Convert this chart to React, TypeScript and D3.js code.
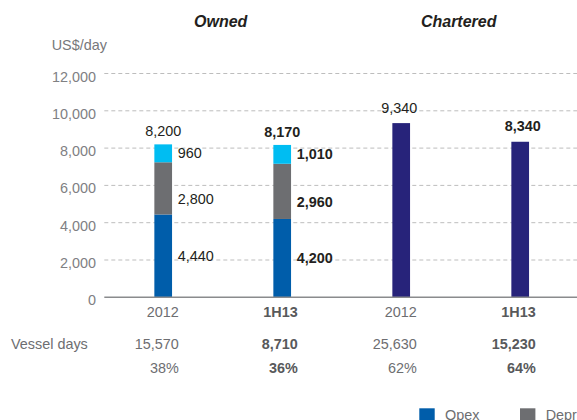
import React from "react";
import * as d3 from "d3";

// ---- data ----
const categories = ["2012", "1H13", "2012", "1H13"];
const groups = ["Owned", "Chartered"];
const groupOf = [0, 0, 1, 1];
const opex = [4440, 4200, 0, 0];
const depreciation = [2800, 2960, 0, 0];
const others = [960, 1010, 0, 0];
const charterCost = [0, 0, 9340, 8340];
const vesselDays = ["15,570", "8,710", "25,630", "15,230"];
const shares = ["38%", "36%", "62%", "64%"];
const boldCol = [false, true, false, true];
const yTicks = [0, 2000, 4000, 6000, 8000, 10000, 12000];
const legendNames = ["Opex", "Depreciation", "Others", "Charter cost"];

const W = 577;
const H = 420;
const FONT = "Liberation Sans, Arial, Helvetica, sans-serif";
const FS = 14.4;

const colors = {
  opex: "#005DAA",
  dep: "#6D6E71",
  oth: "#00BDF2",
  chr: "#27237A",
};

const x = d3.scaleBand<number>().domain(d3.range(categories.length)).range([103.7, 579.7]).padding(0);
const y = d3.scaleLinear().domain([0, 12000]).range([297.3, 73.5]);
const barW = 17.7;

const series = [
  { key: "opex", values: opex, color: colors.opex, labelDy: 5 },
  { key: "dep", values: depreciation, color: colors.dep, labelDy: 16 },
  { key: "oth", values: others, color: colors.oth, labelDy: 5 },
  { key: "chr", values: charterCost, color: colors.chr, labelDy: 5 },
];

const fmt = d3.format(",");

export default function App() {
  const stack = d3
    .stack<number>()
    .keys(series.map((s) => s.key))
    .value((i, key) => series.find((s) => s.key === key)!.values[i]);
  const stacked = stack(d3.range(categories.length));
  const totals = d3.range(categories.length).map((i) => d3.sum(series, (s) => s.values[i]));
  const cx = (i: number) => (x(i) as number) + x.bandwidth() / 2;

  const legendColors = [colors.opex, colors.dep, colors.oth, colors.chr];
  const legendX = [419.3, 520, 640, 740];

  return (
    <svg
      width={W}
      height={H}
      style={{ position: "absolute", left: 0, top: 0, background: "#fff", fontFamily: FONT }}
    >
      {/* group titles */}
      {groups.map((g, gi) => {
        const idx = d3.range(categories.length).filter((i) => groupOf[i] === gi);
        const mx = d3.mean(idx, cx) as number;
        return (
          <text key={g} x={mx - 2} y={27} textAnchor="middle" fontSize={16} fontWeight="bold" fontStyle="italic" fill="#231F20">
            {g}
          </text>
        );
      })}
      <text x={51.7} y={50} fontSize={FS} fill="#77787B">US$/day</text>

      {/* grid + y ticks */}
      {yTicks.map((t) => (
        <g key={t}>
          {t > 0 && (
            <line x1={104.3} x2={W} y1={y(t)} y2={y(t)} stroke="#BDBDBD" strokeWidth={1} strokeDasharray="4 3" />
          )}
          <text x={96} y={y(t) + 8} textAnchor="end" fontSize={FS} fill="#808083">
            {fmt(t)}
          </text>
        </g>
      ))}

      {/* bars */}
      {stacked.map((layer, li) =>
        layer.map((d, i) =>
          d[1] - d[0] > 0 ? (
            <rect
              key={`${li}-${i}`}
              x={cx(i) - barW / 2}
              width={barW}
              y={y(d[1])}
              height={y(d[0]) - y(d[1])}
              fill={series[li].color}
            />
          ) : null
        )
      )}

      {/* axis */}
      <line x1={104.3} x2={W} y1={y(0)} y2={y(0)} stroke="#8A8B8D" strokeWidth={1.5} />

      {/* segment labels (owned) */}
      {stacked.map((layer, li) =>
        li < 3
          ? layer.map((d, i) =>
              d[1] - d[0] > 0 ? (
                <text
                  key={`l${li}-${i}`}
                  x={cx(i) + barW / 2 + 5.7}
                  y={(y(d[0]) + y(d[1])) / 2 + series[li].labelDy}
                  fontSize={FS}
                  fontWeight={boldCol[i] ? "bold" : "normal"}
                  fill="#231F20"
                >
                  {fmt(d[1] - d[0])}
                </text>
              ) : null
            )
          : null
      )}

      {/* totals */}
      {totals.map((t, i) => (
        <text
          key={`t${i}`}
          x={cx(i) + (groupOf[i] === 1 ? (boldCol[i] ? 2.5 : -2) : 0)}
          y={y(t) - (groupOf[i] === 1 ? 10.5 : 8.3)}
          textAnchor="middle"
          fontSize={FS}
          fontWeight={boldCol[i] ? "bold" : "normal"}
          fill="#231F20"
        >
          {fmt(t)}
        </text>
      ))}

      {/* category labels and table */}
      {categories.map((c, i) => (
        <g key={`c${i}`} fontSize={FS} fontWeight={boldCol[i] ? "bold" : "normal"} fill={boldCol[i] ? "#58595B" : "#6D6E71"} textAnchor="end">
          <text x={cx(i) + 15.5} y={317}>{c}</text>
          <text x={cx(i) + 15.5} y={349}>{vesselDays[i]}</text>
          <text x={cx(i) + 15.5} y={372.5}>{shares[i]}</text>
        </g>
      ))}
      <text x={11} y={349} fontSize={FS} fill="#6D6E71">Vessel days</text>

      {/* legend */}
      {legendNames.map((n, i) => (
        <g key={n}>
          <rect x={legendX[i]} y={408.3} width={15.4} height={14} fill={legendColors[i]} />
          <text x={legendX[i] + 25.7} y={420} fontSize={FS} fill="#6D6E71">{n}</text>
        </g>
      ))}
    </svg>
  );
}
